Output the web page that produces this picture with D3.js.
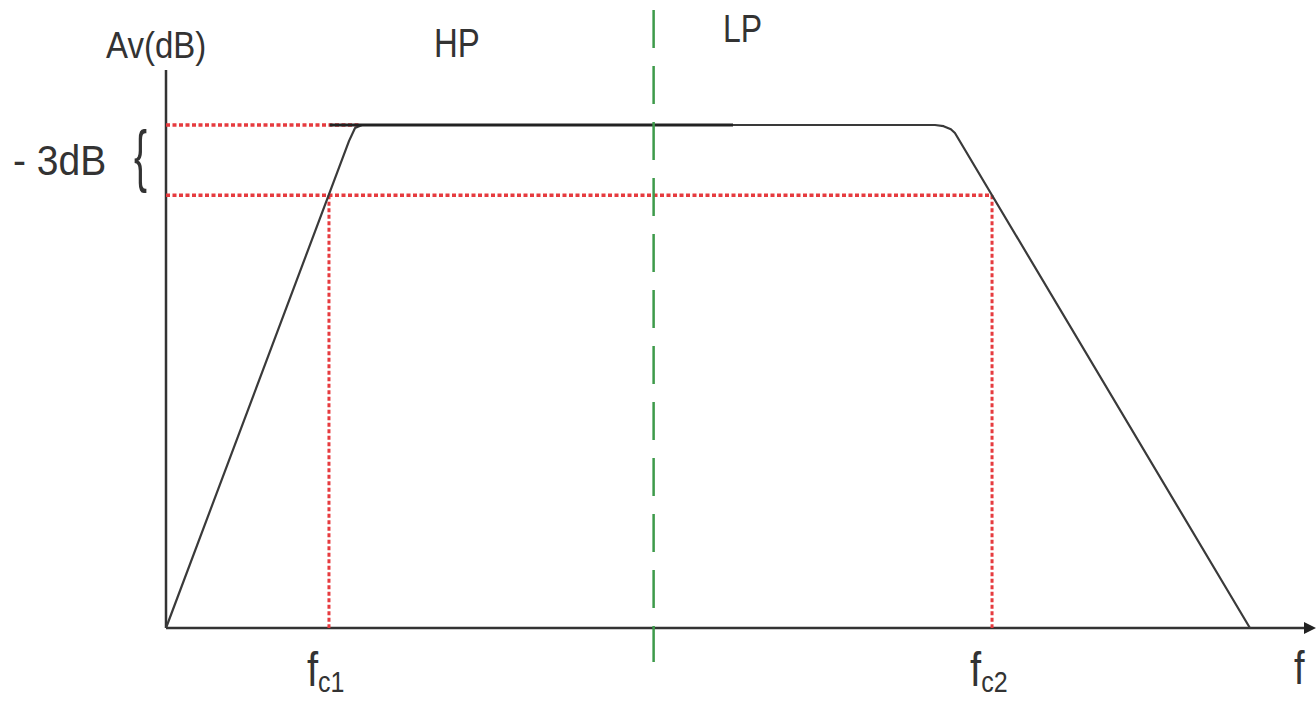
<!DOCTYPE html>
<html lang="en">
<head>
    <meta charset="UTF-8">
    <title>HP / LP band</title>
    <script src="https://d3js.org/d3.v7.min.js"></script>
    <style>
        body { margin: 0; background: #fff; }
        text { font-family: "Liberation Sans", Arial, sans-serif; fill: #333; }
    </style>
</head>
<body>

    <svg width="1316" height="703"></svg>

</body>

<script>

    // response curve, f in arbitrary units, gain in dB (0 = passband)
    var respF  = [0, 1.13, 1.167, 1.21, 4.747, 4.80, 4.845, 4.870, 6.691];
    var respDb = [-21.5, -0.68, -0.13, 0, 0, -0.05, -0.18, -0.34, -21.5];
    var cutoffF = [1.006, 5.099];      // fc1, fc2
    var cutoffLabels = ['c1', 'c2'];
    var levelDb = [0, -3];             // passband and -3dB lines
    var splitF = 3.01;                 // HP | LP border

    var svg = d3.select('svg');

    var x = d3.scaleLinear().domain([0, 7]).range([166, 1300]);
    var y = d3.scaleLinear().domain([-21.5, 0]).range([628, 125]);

    var ink = '#333';
    var red = '#e63b3f';

    // axes
    var axisX = d3.axisBottom(x).tickValues([]).tickSizeOuter(0);
    svg.append('g').attr('transform', 'translate(0,' + y(-21.5) + ')').call(axisX)
        .select('.domain').attr('stroke', ink).attr('stroke-width', 2.5)
        .attr('d', 'M' + x(0) + ',0H1306');
    svg.append('path')
        .attr('d', 'M1316,' + y(-21.5) + 'L1304,' + (y(-21.5) - 6) + 'L1304,' + (y(-21.5) + 6) + 'Z')
        .attr('fill', '#222');

    var axisY = d3.axisLeft(y).tickValues([]).tickSizeOuter(0);
    svg.append('g').attr('transform', 'translate(' + x(0) + ',0)').call(axisY)
        .select('.domain').attr('stroke', ink).attr('stroke-width', 2.5)
        .attr('d', 'M0,70V' + y(-21.5));

    // red dotted guides
    var dots = '4,2.5';
    svg.append('line')
        .attr('x1', x(0)).attr('x2', x(1.2)).attr('y1', y(levelDb[0])).attr('y2', y(levelDb[0]))
        .attr('stroke', red).attr('stroke-width', 3.5).attr('stroke-dasharray', dots);
    svg.append('line')
        .attr('x1', x(0)).attr('x2', x(cutoffF[1])).attr('y1', y(levelDb[1])).attr('y2', y(levelDb[1]))
        .attr('stroke', red).attr('stroke-width', 3.5).attr('stroke-dasharray', dots);
    svg.selectAll('.vguide').data(cutoffF).enter().append('line')
        .attr('x1', function (d) { return x(d); })
        .attr('x2', function (d) { return x(d); })
        .attr('y1', y(levelDb[1]))
        .attr('y2', y(-21.5))
        .attr('stroke', red).attr('stroke-width', 3).attr('stroke-dasharray', dots);

    // response curve
    var pts = respF.map(function (f, i) { return [f, respDb[i]]; });
    var line = d3.line()
        .x(function (d) { return x(d[0]); })
        .y(function (d) { return y(d[1]); })
        .curve(d3.curveLinear);
    svg.append('path').datum(pts)
        .attr('d', line)
        .attr('fill', 'none').attr('stroke', '#3a3a3a').attr('stroke-width', 2.2)
        .attr('stroke-linejoin', 'round');
    // darker stretch of the flat top
    svg.append('line')
        .attr('x1', x(1.01)).attr('x2', x(3.5)).attr('y1', y(0)).attr('y2', y(0))
        .attr('stroke', '#222').attr('stroke-width', 3.2);

    // green dashed split
    svg.append('line')
        .attr('x1', x(splitF)).attr('x2', x(splitF)).attr('y1', 10).attr('y2', 662)
        .attr('stroke', '#3d9a4a').attr('stroke-width', 2.5).attr('stroke-dasharray', '38,18');

    // labels (the source font is a bit taller than Arial, so stretch vertically)
    function label(tx, ty, size, sy, txt) {
        return svg.append('text')
            .attr('transform', 'translate(' + tx + ',' + ty + ') scale(1,' + sy + ')')
            .attr('font-size', size)
            .text(txt);
    }
    label(106, 58, 33, 1.12, 'Av(dB)');
    label(434, 57, 33, 1.22, 'HP');
    label(723, 42, 32, 1.22, 'LP');
    label(13, 175, 39, 1.08, '- 3dB');
    label(1294, 684, 38, 1.2, 'f');
    label(134, 179, 46, 1.5, '{').attr('transform', 'translate(134,179) scale(0.85,1.5)');

    svg.selectAll('.fc').data(cutoffF).enter().append('text')
        .attr('transform', function (d) { return 'translate(' + (x(d) - 22) + ',686) scale(1,1.2)'; })
        .attr('font-size', 40)
        .each(function (d, i) {
            d3.select(this).append('tspan').text('f');
            d3.select(this).append('tspan').attr('font-size', 25).attr('dy', 5).text(cutoffLabels[i]);
        });

</script>

</html>
